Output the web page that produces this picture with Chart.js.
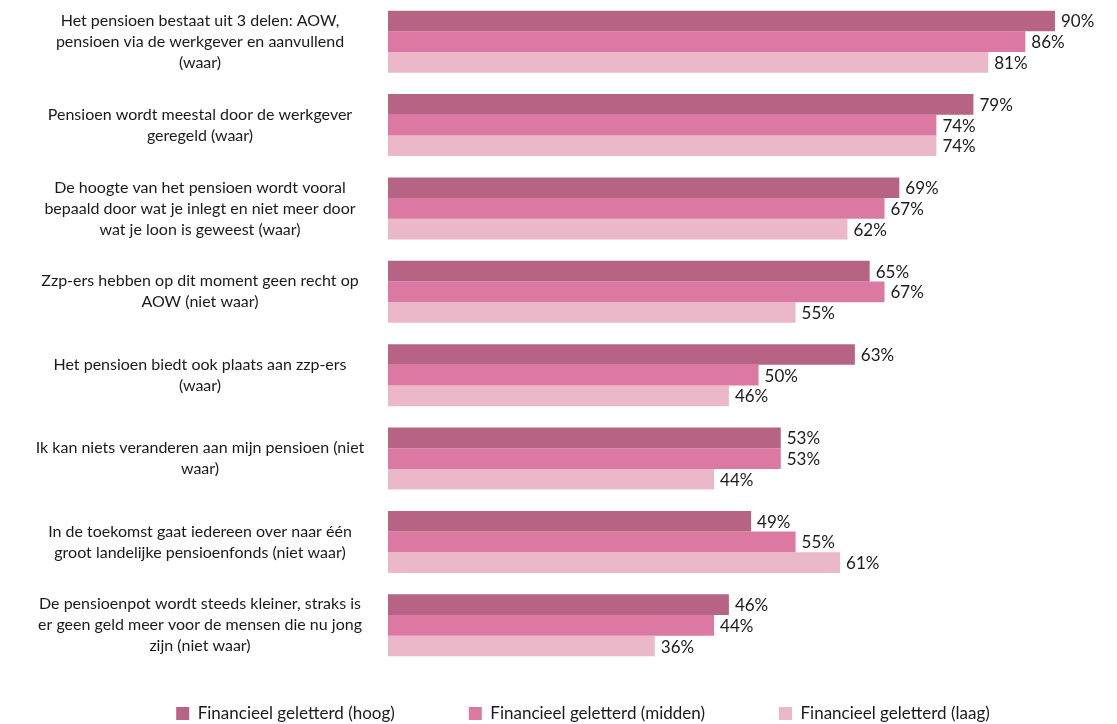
<!DOCTYPE html>
<html>
<head>
<meta charset="utf-8">
<script src="https://cdn.jsdelivr.net/npm/chart.js@4.4.1/dist/chart.umd.min.js"></script>
<style>
  html, body { margin: 0; padding: 0; background: #ffffff; }
  #wrap { width: 1117px; height: 724px; position: relative; }
</style>
</head>
<body>
<div id="wrap"><canvas id="c"></canvas></div>
<script>
const categories = [
  ["Het pensioen bestaat uit 3 delen: AOW,", "pensioen via de werkgever en aanvullend", "(waar)"],
  ["Pensioen wordt meestal door de werkgever", "geregeld (waar)"],
  ["De hoogte van het pensioen wordt vooral", "bepaald door wat je inlegt en niet meer door", "wat je loon is geweest (waar)"],
  ["Zzp-ers hebben op dit moment geen recht op", "AOW (niet waar)"],
  ["Het pensioen biedt ook plaats aan zzp-ers", "(waar)"],
  ["Ik kan niets veranderen aan mijn pensioen (niet", "waar)"],
  ["In de toekomst gaat iedereen over naar één", "groot landelijke pensioenfonds (niet waar)"],
  ["De pensioenpot wordt steeds kleiner, straks is", "er geen geld meer voor de mensen die nu jong", "zijn (niet waar)"]
];
const seriesNames = ["Financieel geletterd (hoog)", "Financieel geletterd (midden)", "Financieel geletterd (laag)"];
const hoog   = [90, 79, 69, 65, 63, 53, 49, 46];
const midden = [86, 74, 67, 67, 50, 53, 55, 44];
const laag   = [81, 74, 62, 55, 46, 44, 61, 36];
const colors = ["#B76484", "#DC79A3", "#EBB8CA"];

const FONT = "Lato, 'Open Sans', sans-serif";
const FS = 17;
const TICK_FS = 16;
const TEXT = "#1a1a1a";
const LEGEND_PAD = 74;
const AXIS_W = 388;
const LABEL_CENTER = 208;

// measure widest tick line so the centred label column sits where the reference has it
const mctx = document.createElement('canvas').getContext('2d');
mctx.font = TICK_FS + "px " + FONT;
let widest = 0;
categories.forEach(lines => lines.forEach(l => { widest = Math.max(widest, mctx.measureText(l).width); }));
const tickPad = Math.max(0, AXIS_W - LABEL_CENTER - widest / 2);

const valueLabels = {
  id: 'valueLabels',
  afterDatasetsDraw(chart) {
    const ctx = chart.ctx;
    ctx.save();
    ctx.font = FS + "px " + FONT;
    ctx.fillStyle = TEXT;
    ctx.textAlign = 'left';
    ctx.textBaseline = 'middle';
    chart.data.datasets.forEach((ds, di) => {
      const meta = chart.getDatasetMeta(di);
      meta.data.forEach((bar, i) => {
        ctx.fillText(ds.data[i] + '%', bar.x + 6, bar.y + 1);
      });
    });
    ctx.restore();
  }
};

const legendShift = {
  id: 'legendShift',
  afterLayout(chart) {
    chart.legend.top = 705 - LEGEND_PAD;
    chart.legend.left = 74;
  }
};

new Chart(document.getElementById('c'), {
  type: 'bar',
  data: {
    labels: categories,
    datasets: [
      { label: seriesNames[0], data: hoog, backgroundColor: colors[0] },
      { label: seriesNames[1], data: midden, backgroundColor: colors[1] },
      { label: seriesNames[2], data: laag, backgroundColor: colors[2] }
    ]
  },
  options: {
    indexAxis: 'y',
    responsive: true,
    maintainAspectRatio: false,
    animation: false,
    events: [],
    datasets: { bar: { categoryPercentage: 0.745, barPercentage: 1.0 } },
    layout: { padding: { left: 0, right: 25, top: 0, bottom: 0 } },
    scales: {
      x: { display: false, min: 0, max: 95 },
      y: {
        grid: { display: false },
        border: { display: false },
        ticks: {
          crossAlign: 'center',
          padding: tickPad,
          color: TEXT,
          font: { family: FONT, size: TICK_FS, lineHeight: 21 / TICK_FS }
        },
        afterFit(scale) {
          scale.width = AXIS_W;
          scale.paddingTop = 0;
          scale.paddingBottom = 0;
        }
      }
    },
    plugins: {
      tooltip: { enabled: false },
      legend: {
        position: 'bottom',
        maxHeight: 57,
        labels: {
          boxWidth: 13,
          boxHeight: 13,
          padding: LEGEND_PAD,
          color: TEXT,
          font: { family: FONT, size: FS }
        }
      }
    }
  },
  plugins: [valueLabels, legendShift]
});
</script>
</body>
</html>
